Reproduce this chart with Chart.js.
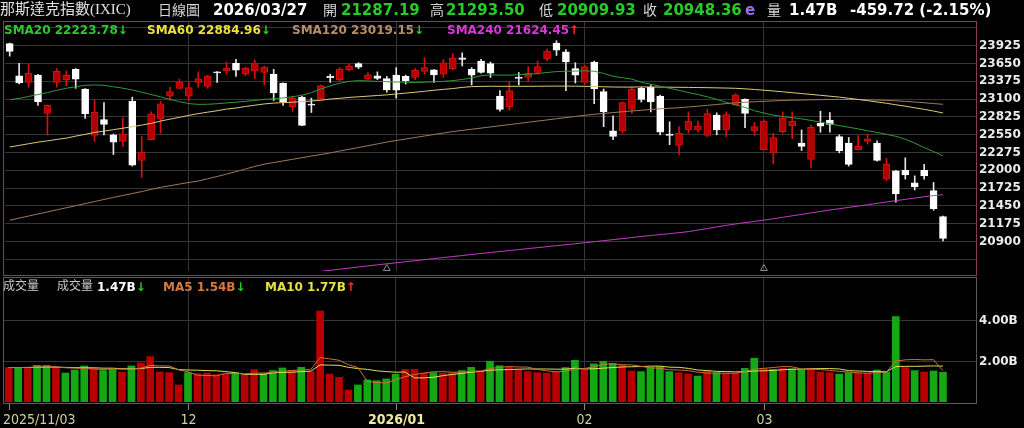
<!DOCTYPE html>
<html><head><meta charset="utf-8">
<script src="https://cdn.jsdelivr.net/npm/chart.js@4.4.1/dist/chart.umd.min.js"></script>
<style>
html,body{margin:0;padding:0;background:#000;width:1024px;height:428px;overflow:hidden;}
#wrap{position:relative;width:1024px;height:428px;background:#000;}
canvas{position:absolute;left:0;}
#c1{top:0;}
#c2{top:276px;}
.t{position:absolute;white-space:nowrap;line-height:1;z-index:5;}
.hn{font-family:"DejaVu Sans";font-weight:bold;font-size:15px;top:3px;}
.hc{font-family:"Noto Sans CJK TC";font-size:14px;top:2px;color:#d6d6d6;}
.lg{font-family:"DejaVu Sans";font-weight:bold;font-size:12px;top:24px;}
.vc{font-family:"Noto Sans CJK TC";font-size:12px;top:279px;color:#c8c8c8;}
.vl{font-family:"DejaVu Sans";font-weight:bold;font-size:12px;top:281px;}
.dn{color:#22d022;}
.up{color:#ff2a2a;}
.frame{position:absolute;box-sizing:border-box;pointer-events:none;z-index:4;}
</style>
</head><body>
<div id="wrap">
<canvas id="c1" width="1024" height="276"></canvas>
<canvas id="c2" width="1024" height="152"></canvas>
<div class="frame" style="left:3px;top:21px;width:974px;height:255px;border:1px solid #8a3a62;"></div>
<div class="frame" style="left:3px;top:277px;width:974px;height:127px;border:1px solid #5a5a5a;"></div>

<span class="t" style="left:0;top:2px;font-family:'Liberation Serif','Noto Sans CJK TC';font-size:15px;color:#e0e0e0;">那斯達克指數(IXIC)</span>
<span class="t hc" style="left:158px;">日線圖</span>
<span class="t hn" style="left:213px;color:#ffffff;">2026/03/27</span>
<span class="t hc" style="left:323px;">開</span>
<span class="t hn" style="left:341px;color:#26cc26;">21287.19</span>
<span class="t hc" style="left:430px;">高</span>
<span class="t hn" style="left:446px;color:#26cc26;">21293.50</span>
<span class="t hc" style="left:539px;">低</span>
<span class="t hn" style="left:557px;color:#26cc26;">20909.93</span>
<span class="t hc" style="left:643px;">收</span>
<span class="t hn" style="left:663px;color:#26cc26;">20948.36</span>
<span class="t hn" style="left:745px;color:#9a6cf0;">e</span>
<span class="t hc" style="left:767px;">量</span>
<span class="t hn" style="left:789px;color:#ffffff;">1.47B</span>
<span class="t hn" style="left:850px;color:#ffffff;">-459.72 (-2.15%)</span>

<span class="t lg" style="left:4px;color:#2ec82e;">SMA20 22223.78<span class="dn">↓</span></span>
<span class="t lg" style="left:147px;color:#ece040;">SMA60 22884.96<span class="dn">↓</span></span>
<span class="t lg" style="left:292px;color:#b88e6a;">SMA120 23019.15<span class="dn">↓</span></span>
<span class="t lg" style="left:447px;color:#d838d8;">SMA240 21624.45<span class="up">↑</span></span>

<span class="t vc" style="left:3px;">成交量</span>
<span class="t vc" style="left:57px;">成交量</span>
<span class="t vl" style="left:97px;color:#ffffff;">1.47B<span class="dn">↓</span></span>
<span class="t vl" style="left:163px;color:#d8783e;">MA5 1.54B<span class="dn">↓</span></span>
<span class="t vl" style="left:265px;color:#e6e040;">MA10 1.77B<span class="up">↑</span></span>
</div>
<script>
// ---------- data ----------
const dates = [
'2025/11/03','2025/11/04','2025/11/05','2025/11/06','2025/11/07','2025/11/10','2025/11/11','2025/11/12','2025/11/13','2025/11/14','2025/11/17','2025/11/18','2025/11/19','2025/11/20','2025/11/21','2025/11/24','2025/11/25','2025/11/26','2025/11/28',
'2025/12/01','2025/12/02','2025/12/03','2025/12/04','2025/12/05','2025/12/08','2025/12/09','2025/12/10','2025/12/11','2025/12/12','2025/12/15','2025/12/16','2025/12/17','2025/12/18','2025/12/19','2025/12/22','2025/12/23','2025/12/24','2025/12/26','2025/12/29','2025/12/30','2025/12/31',
'2026/01/02','2026/01/05','2026/01/06','2026/01/07','2026/01/08','2026/01/09','2026/01/12','2026/01/13','2026/01/14','2026/01/15','2026/01/16','2026/01/20','2026/01/21','2026/01/22','2026/01/23','2026/01/26','2026/01/27','2026/01/28','2026/01/29','2026/01/30',
'2026/02/02','2026/02/03','2026/02/04','2026/02/05','2026/02/06','2026/02/09','2026/02/10','2026/02/11','2026/02/12','2026/02/13','2026/02/17','2026/02/18','2026/02/19','2026/02/20','2026/02/23','2026/02/24','2026/02/25','2026/02/26','2026/02/27',
'2026/03/02','2026/03/03','2026/03/04','2026/03/05','2026/03/06','2026/03/09','2026/03/10','2026/03/11','2026/03/12','2026/03/13','2026/03/16','2026/03/17','2026/03/18','2026/03/19','2026/03/20','2026/03/23','2026/03/24','2026/03/25','2026/03/26','2026/03/27'];

const opens = [23955,23459,23358,23469,22877,23358,23398,23560,23256,22537, 22785,22547,22446,23064,22152,22471,22790,23145,23266,23145, 23358,23297,23520,23535,23651,23484,23535,23510,23484,23343, 22978,23130,23013,23104,23449,23398,23550,23646,23408,23459, 23418,23469,23449,23434,23525,23550,23484,23570,23737,23560, 23687,23646,23145,22978,23434,23434,23510,23722,23965,23829, 23570,23358,23672,23216,22608,22608,22942,23266,23282,23145, 22558,22386,22624,22624,22537,22851,22624,23013,23094,22608, 22320,22269,22598,22689,22421,22168,22725,22775,22522,22421, 22320,22446,22421,21864,21991,22001,21808,22001,21687,21287.19];
const highs = [23965,23651,23636,23480,23010,23570,23535,23570,23260,23079, 23044,22560,22811,23130,22522,22902,23064,23282,23408,23358, 23520,23469,23525,23672,23712,23590,23702,23611,23560,23350, 23145,23145,23115,23317,23484,23585,23636,23662,23510,23520, 23449,23585,23469,23570,23737,23555,23712,23803,23813,23585, 23712,23672,23231,23368,23510,23601,23687,23874,24001,23864, 23661,23621,23687,23256,22841,23054,23282,23282,23317,23160, 22750,22674,22902,22760,22942,22887,22902,23180,23105,22740, 22775,22573,22902,22902,22624,22699,22912,22892,22548,22507, 22538,22558,22456,22183,22001,22193,21915,22092,21813,21293.50];
const lows = [23763,23332,23282,23003,22547,23282,23307,23266,22800,22446, 22547,22244,22370,22066,21889,22471,22573,23079,23256,23079, 23282,23266,23358,23484,23449,23459,23418,23317,23079,23003, 22912,22689,22892,23094,23358,23383,23535,23570,23398,23398, 23206,23114,23332,23398,23484,23358,23434,23550,23611,23317, 23499,23434,22912,22927,23317,23383,23484,23687,23773,23231, 23348,23332,23029,22674,22472,22573,22877,23054,22902,22548, 22396,22244,22573,22588,22522,22548,22522,23003,22659,22538, 22320,22102,22573,22487,22305,22041,22588,22588,22269,22066, 22320,22406,22143,21839,21510,21864,21697,21864,21383,20909.93];
const closes = [23835,23349,23500,23054,23005,23527,23468,23406,22870,22901, 22708,22433,22564,22078,22273,22872,23026,23215,23366,23276, 23414,23454,23505,23578,23546,23576,23654,23594,23195,23057, 23111,22693,23006,23308,23429,23562,23613,23593,23474,23419, 23242,23236,23383,23545,23585,23474,23661,23737,23712,23469, 23510,23500,22942,23231,23418,23499,23601,23839,23854,23672, 23469,23601,23256,22902,22522,23044,23256,23094,23054,22588, 22538,22573,22760,22684,22877,22624,22861,23165,22877,22674, 22760,22507,22801,22760,22370,22665,22680,22710,22305,22092, 22370,22487,22153,22102,21636,21930,21748,21915,21408,20948.36];
const prevClose = 23725;

const sma20 = [23090,23110,23140,23170,23200,23235,23267,23290,23312,23318, 23312,23290,23268,23240,23205,23170,23135,23095,23060,23030, 23018,23020,23028,23040,23052,23065,23080,23095,23106,23118, 23135,23160,23200,23255,23305,23345,23372,23385,23380,23372, 23368,23364,23360,23357,23360,23366,23373,23385,23402,23425, 23460,23474,23470,23470,23476,23483,23495,23510,23524,23528, 23532,23535,23530,23495,23452,23430,23408,23360,23330,23297, 23265,23235,23200,23170,23135,23095,23050,23010,22970,22920, 22885,22852,22830,22812,22795,22770,22745,22718,22690,22665, 22640,22612,22585,22556,22525,22480,22420,22350,22290,22224];
const sma60 = [22360,22385,22410,22435,22455,22477,22497,22528,22555,22585, 22605,22628,22650,22672,22698,22725,22760,22790,22818,22848, 22875,22898,22920,22945,22962,22985,23005,23025,23038,23045, 23052,23060,23070,23082,23100,23112,23125,23135,23145,23155, 23165,23178,23192,23205,23220,23236,23250,23262,23280,23292, 23296,23298,23297,23297,23297,23297,23298,23299,23300,23300, 23299,23297,23294,23290,23286,23285,23285,23288,23286,23285, 23283,23282,23280,23278,23276,23273,23270,23266,23258,23248, 23237,23225,23212,23198,23185,23172,23158,23144,23130,23112, 23094,23075,23055,23035,23012,22990,22965,22942,22915,22885];
const sma120 = [21230,21262,21294,21326,21358,21390,21422,21454,21486,21518, 21550,21582,21612,21642,21672,21705,21738,21762,21788,21812, 21835,21870,21905,21942,21980,22020,22060,22095,22120,22145, 22170,22195,22220,22244,22269,22298,22325,22352,22380,22408, 22436,22460,22483,22506,22530,22553,22576,22598,22616,22634, 22652,22670,22688,22706,22724,22742,22760,22778,22796,22814, 22832,22850,22865,22878,22891,22904,22916,22927,22940,22950, 22958,22966,22978,22990,23003,23016,23030,23042,23050,23058, 23065,23072,23078,23082,23085,23088,23091,23093,23094,23094, 23092,23089,23085,23080,23073,23064,23054,23043,23031,23019];
const sma240 = [null,null,null,null,null,null,null,null,null,null, null,null,null,null,null,null,null,null,null,null, null,null,null,null,null,null,null,null,null,null, null,null,null,20440,20457,20474,20491,20508,20525,20541, 20557,20573,20589,20605,20621,20637,20653,20669,20685,20701, 20717,20732,20747,20762,20777,20792,20807,20822,20837,20852, 20867,20882,20898,20914,20930,20946,20962,20980,20994,21008, 21022,21038,21054,21078,21102,21126,21150,21172,21192,21212, 21232,21252,21275,21298,21320,21343,21365,21388,21408,21428, 21448,21468,21490,21512,21532,21552,21572,21592,21610,21624];

const volumes = [1.70,1.70,1.70,1.81,1.81,1.70,1.43,1.58,1.78,1.66, 1.55,1.63,1.48,1.78,1.93,2.24,1.48,1.45,0.84,1.45, 1.40,1.43,1.35,1.40,1.45,1.32,1.60,1.40,1.55,1.68, 1.55,1.71,1.51,4.49,1.38,1.22,0.59,0.84,1.09,1.05, 1.14,1.37,1.61,1.61,1.42,1.45,1.42,1.45,1.55,1.71, 1.51,2.01,1.79,1.71,1.61,1.50,1.45,1.42,1.48,1.70, 2.06,1.58,1.88,2.01,1.91,1.83,1.53,1.50,1.70,1.74, 1.50,1.45,1.38,1.28,1.55,1.45,1.42,1.42,1.66,2.16, 1.65,1.61,1.66,1.63,1.58,1.65,1.48,1.45,1.38,1.45, 1.42,1.42,1.58,1.48,4.21,1.70,1.55,1.48,1.53,1.47];
const volMA5 = [1.70,1.70,1.71,1.73,1.74,1.74,1.69,1.67,1.66,1.63, 1.60,1.64,1.62,1.62,1.67,1.81,1.78,1.78,1.59,1.49, 1.32,1.31,1.29,1.41,1.41,1.39,1.42,1.43,1.46,1.51, 1.56,1.58,1.60,2.19,2.13,2.06,1.84,1.70,1.02,0.96, 0.94,1.10,1.25,1.36,1.43,1.49,1.50,1.47,1.46,1.52, 1.53,1.65,1.71,1.75,1.73,1.72,1.61,1.54,1.49,1.51, 1.62,1.65,1.74,1.85,1.89,1.84,1.83,1.76,1.69,1.66, 1.59,1.58,1.55,1.47,1.43,1.42,1.42,1.42,1.50,1.62, 1.66,1.70,1.75,1.74,1.63,1.63,1.60,1.56,1.51,1.48, 1.44,1.42,1.45,1.47,2.02,2.08,2.10,2.08,2.09,1.54];
const volMA10 = [1.70,1.70,1.70,1.71,1.72,1.72,1.71,1.70,1.69,1.69, 1.67,1.67,1.64,1.64,1.65,1.71,1.71,1.70,1.60,1.58, 1.57,1.55,1.54,1.50,1.45,1.36,1.37,1.36,1.44,1.46, 1.47,1.50,1.52,1.83,1.82,1.81,1.71,1.65,1.61,1.54, 1.50,1.47,1.48,1.19,1.19,1.22,1.30,1.36,1.41,1.47, 1.51,1.57,1.59,1.60,1.62,1.63,1.63,1.63,1.62,1.62, 1.67,1.63,1.64,1.67,1.70,1.73,1.74,1.75,1.77,1.77, 1.72,1.71,1.66,1.58,1.55,1.51,1.50,1.49,1.49,1.53, 1.54,1.56,1.59,1.62,1.62,1.64,1.65,1.65,1.63,1.55, 1.53,1.51,1.50,1.49,1.75,1.76,1.76,1.77,1.78,1.77];

const markerIdx = [40, 80];
const priceTicks = [20625,20900,21175,21450,21725,22000,22275,22550,22825,23100,23375,23650,23925,24200];
const priceLabels = [20900,21175,21450,21725,22000,22275,22550,22825,23100,23375,23650,23925];
const volTicks = [2, 4];
const volLabels = ['2.00B', '4.00B'];
const axisLabels = ['2025/11/03', '12', '2026/01', '02', '03'];

// ---------- derived structure ----------
const emptySlots = 3;
const slots = dates.concat(Array(emptySlots).fill(''));
const monthStarts = dates.map((d, i) => (i > 0 && d.slice(0, 7) !== dates[i - 1].slice(0, 7)) ? i : -1).filter(i => i >= 0);
const axisTickIdx = [0].concat(monthStarts);

const RED_BODY = '#b20000', RED_EDGE = '#d81010', WHITE = '#ffffff';
const GRID = '#363636';
const isUp = opens.map((o, i) => closes[i] >= o);
const wickData = lows.map((l, i) => [l, highs[i]]);
const bodyData = opens.map((o, i) => [Math.min(o, closes[i]), Math.max(o, closes[i])]);
const volUp = closes.map((c, i) => c > (i === 0 ? prevClose : closes[i - 1]));
const markers = dates.map((d, i) => markerIdx.includes(i) ? 20485 : null);

const commonX = {
  type: 'category', offset: true,
  grid: { offset: false, drawTicks: false, color: ctx => monthStarts.includes(ctx.index) ? GRID : 'rgba(0,0,0,0)' },
  ticks: { display: false, autoSkip: false },
  border: { display: false },
  afterFit(s) { s.height = 0; s.paddingLeft = 0; s.paddingRight = 0; }
};
const axisFont = { family: 'DejaVu Sans', size: 12, weight: 'bold' };

new Chart(document.getElementById('c1'), {
  type: 'bar',
  data: {
    labels: slots,
    datasets: [
      { type: 'line', data: sma20, borderColor: '#2f9a34', borderWidth: 1, pointRadius: 0, tension: 0, order: 0 },
      { type: 'line', data: sma60, borderColor: '#ddc97c', borderWidth: 1, pointRadius: 0, tension: 0, order: 0 },
      { type: 'line', data: sma120, borderColor: '#9c7a5c', borderWidth: 1, pointRadius: 0, tension: 0, order: 0 },
      { type: 'line', data: sma240, borderColor: '#c23cc2', borderWidth: 1, pointRadius: 0, tension: 0, order: 0 },
      { type: 'line', data: markers, showLine: false, pointStyle: 'triangle', pointRadius: 4, pointBorderColor: '#8a8a8a', pointBackgroundColor: 'rgba(0,0,0,0)', pointBorderWidth: 1, order: 0, clip: false },
      { data: wickData, grouped: false, barThickness: 1, backgroundColor: isUp.map(u => u ? RED_EDGE : '#e6e6e6'), order: 2 },
      { data: bodyData, grouped: false, barThickness: 7, minBarLength: 1, borderWidth: 1, borderSkipped: false,
        backgroundColor: isUp.map(u => u ? RED_BODY : WHITE), borderColor: isUp.map(u => u ? RED_EDGE : WHITE), order: 1 }
    ]
  },
  options: {
    responsive: false, animation: false,
    layout: { padding: { left: 4, right: 0, top: 21, bottom: 1 } },
    plugins: { legend: { display: false }, tooltip: { enabled: false } },
    scales: {
      x: commonX,
      y: {
        position: 'right', min: 20446, max: 24305,
        afterBuildTicks(s) { s.ticks = priceTicks.map(v => ({ value: v })); },
        ticks: { color: '#ececec', font: axisFont, padding: 3, callback: v => priceLabels.includes(v) ? String(v) : '' },
        grid: { color: GRID, drawTicks: false },
        border: { display: false },
        afterFit(s) { s.width = 48; s.paddingTop = 0; s.paddingBottom = 0; }
      }
    }
  }
});

const xLabelPlugin = {
  id: 'xlabels',
  afterDraw(chart) {
    const { ctx, chartArea, scales: { x } } = chart;
    ctx.save();
    axisTickIdx.forEach((idx, k) => {
      const px = Math.round(x.getPixelForValue(idx)) + 0.5;
      ctx.strokeStyle = '#8a8a8a'; ctx.lineWidth = 1;
      ctx.beginPath(); ctx.moveTo(px, chartArea.bottom + 1); ctx.lineTo(px, chartArea.bottom + 8); ctx.stroke();
      const yearStart = k > 0 && axisLabels[k].includes('/');
      ctx.font = (yearStart ? 'bold ' : '') + '14px "DejaVu Sans Condensed", "DejaVu Sans"';
      ctx.fillStyle = yearStart ? '#f2ea9c' : '#d4d09a';
      ctx.textBaseline = 'alphabetic';
      if (k === 0) { ctx.textAlign = 'left'; ctx.fillText(axisLabels[k], 3, chartArea.bottom + 22); }
      else { ctx.textAlign = 'center'; ctx.fillText(axisLabels[k], px, chartArea.bottom + 22); }
    });
    ctx.restore();
  }
};

new Chart(document.getElementById('c2'), {
  type: 'bar',
  data: {
    labels: slots,
    datasets: [
      { type: 'line', data: volMA5, borderColor: '#c8703c', borderWidth: 1, pointRadius: 0, tension: 0, order: 0 },
      { type: 'line', data: volMA10, borderColor: '#e2dc5a', borderWidth: 1, pointRadius: 0, tension: 0, order: 0 },
      { data: volumes, barThickness: 7, backgroundColor: volUp.map(u => u ? '#b80000' : '#14a814'), order: 1 }
    ]
  },
  options: {
    responsive: false, animation: false,
    layout: { padding: { left: 4, right: 0, top: 2, bottom: 26 } },
    plugins: { legend: { display: false }, tooltip: { enabled: false } },
    scales: {
      x: commonX,
      y: {
        position: 'right', min: 0, max: 6.12,
        afterBuildTicks(s) { s.ticks = volTicks.map(v => ({ value: v })); },
        ticks: { color: '#ececec', font: axisFont, padding: 3, callback: v => volLabels[volTicks.indexOf(v)] || '' },
        grid: { color: GRID, drawTicks: false },
        border: { display: false },
        afterFit(s) { s.width = 48; s.paddingTop = 0; s.paddingBottom = 0; }
      }
    }
  },
  plugins: [xLabelPlugin]
});
</script>
</body></html>
